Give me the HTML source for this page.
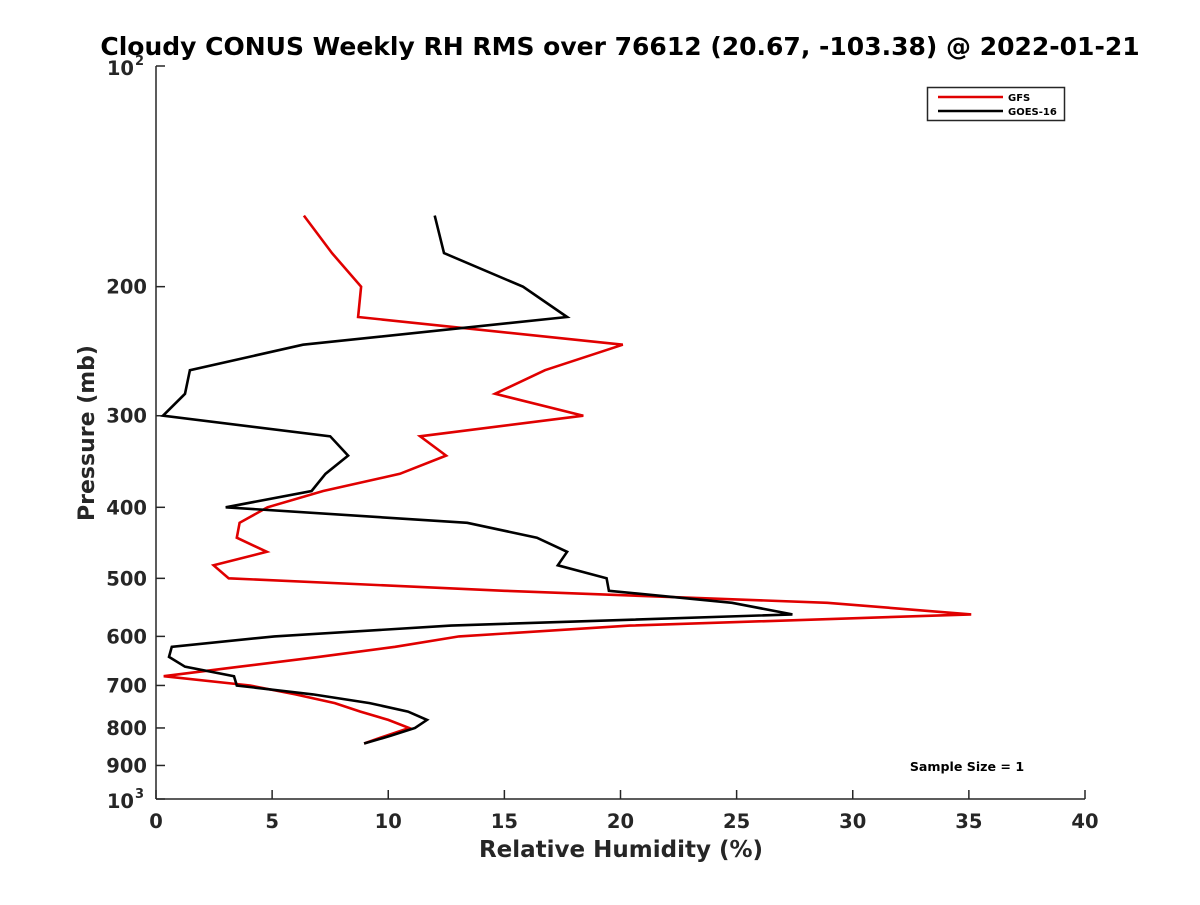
<!DOCTYPE html>
<html><head><meta charset="utf-8"><style>
html,body{margin:0;padding:0;background:#fff;}
svg text{font-family:"DejaVu Sans","Liberation Sans",sans-serif;font-weight:bold;}
</style></head><body>
<svg id="chart" width="1200" height="900" xmlns="http://www.w3.org/2000/svg">
<rect width="1200" height="900" fill="#fff"/>
<text x="620" y="55" text-anchor="middle" font-size="25" fill="#000">Cloudy CONUS Weekly RH RMS over 76612 (20.67, -103.38) @ 2022-01-21</text>
<g id="axes"></g>
<g id="series"></g>
<g>
<rect x="927.5" y="87.5" width="137" height="33" fill="#fff" stroke="#262626" stroke-width="1.5"/>
<line x1="938" y1="97" x2="1003" y2="97" stroke="#e00000" stroke-width="2.5"/>
<text x="1008" y="101" font-size="10" fill="#000">GFS</text>
<line x1="938" y1="111" x2="1003" y2="111" stroke="#000" stroke-width="2.5"/>
<text x="1008" y="115" font-size="10" fill="#000">GOES-16</text>
</g>
<text x="967" y="771" text-anchor="middle" font-size="12.6" fill="#000">Sample Size = 1</text>
<text x="621" y="857" text-anchor="middle" font-size="23" fill="#262626">Relative Humidity (%)</text>
<text transform="translate(94,433) rotate(-90)" text-anchor="middle" font-size="22" fill="#262626">Pressure (mb)</text>
</svg>
<script>
const pressureLevels = [160,180,200,220,240,260,280,300,320,340,360,380,400,420,440,460,480,500,520,540,560,580,600,620,640,660,680,700,720,740,760,780,800,820,840];
const gfsRH = [6.37,7.58,8.83,8.7,20.1,16.75,14.6,18.4,11.37,12.49,10.5,7.2,4.8,3.6,3.48,4.77,2.48,3.13,15.0,28.9,35.1,20.4,13.05,10.3,7.0,3.6,0.33,4.05,6.0,7.7,8.8,10.0,10.9,9.9,8.96];
const goesRH = [12.0,12.4,15.8,17.7,6.33,1.46,1.25,0.3,7.5,8.27,7.3,6.7,3.0,13.4,16.4,17.7,17.3,19.4,19.5,24.8,27.4,12.7,5.1,0.68,0.56,1.25,3.36,3.48,6.76,9.2,10.85,11.67,11.15,10.1,8.96];
const xTicks = [0,5,10,15,20,25,30,35,40];
const yTicks = [200,300,400,500,600,700,800,900];

const NS = "http://www.w3.org/2000/svg";
const X0 = 156, X1 = 1085, Y0 = 66, Y1 = 799;
const xScale = v => X0 + (v / 40) * (X1 - X0);
const yScale = p => Y0 + (Math.log10(p) - 2) * (Y1 - Y0);
function mk(tag, attrs, parent) {
  const e = document.createElementNS(NS, tag);
  for (const k in attrs) e.setAttribute(k, attrs[k]);
  parent.appendChild(e);
  return e;
}
const axes = document.getElementById('axes');
const yAxis = mk('line', {x1: X0, y1: Y0, x2: X0, y2: Y1, stroke: '#262626', 'stroke-width': 1.5}, axes);


const xAxis = mk('line', {x1: X0, y1: Y1, x2: X1, y2: Y1, stroke: '#262626', 'stroke-width': 1.5}, axes);



xTicks.forEach(v => {
  const x = xScale(v);
  const t = mk('line', {x1: x, y1: Y1, x2: x, y2: Y1 - 9, stroke: '#262626', 'stroke-width': 1.5}, axes);
  
  
  const l = mk('text', {x: x, y: Y1 + 29, 'text-anchor': 'middle', 'font-size': 19.5, fill: '#262626'}, axes);
  l.textContent = v;
  
  
});
yTicks.forEach(p => {
  const y = yScale(p);
  const t = mk('line', {x1: X0, y1: y, x2: X0 + 9, y2: y, stroke: '#262626', 'stroke-width': 1.5}, axes);
  
  
  const l = mk('text', {x: X0 - 9, y: y + 7, 'text-anchor': 'end', 'font-size': 19.5, fill: '#262626'}, axes);
  l.textContent = p;
  
  
});
[[100, '2'], [1000, '3']].forEach(([p, e]) => {
  const y = yScale(p);
  const t = mk('line', {x1: X0, y1: y, x2: X0 + 9, y2: y, stroke: '#262626', 'stroke-width': 1.5}, axes);
  
  
  const l = mk('text', {x: X0 - 22, y: y + 9, 'text-anchor': 'end', 'font-size': 19.5, fill: '#262626'}, axes);
  l.textContent = '10';
  
  
  const s = mk('text', {x: X0 - 21, y: y - 1, 'font-size': 13, fill: '#262626'}, axes);
  s.textContent = e;
  
  
});

const series = document.getElementById('series');
function drawLine(vals, color, name) {
  const pts = vals.map((v, i) => xScale(v).toFixed(1) + ',' + yScale(pressureLevels[i]).toFixed(1)).join(' ');
  const pl = mk('polyline', {points: pts, fill: 'none', stroke: color, 'stroke-width': 2.6, 'stroke-linejoin': 'miter'}, series);
  
  
}
drawLine(gfsRH, '#e00000', 'gfs-line');
drawLine(goesRH, '#000000', 'goes16-line');
</script>
</body></html>
